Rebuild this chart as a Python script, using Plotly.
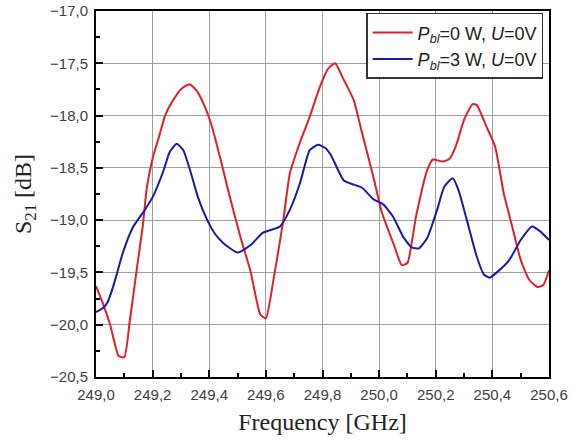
import plotly.graph_objects as go

# Frequency [GHz] and S21 [dB]
freq_red = [249.0, 249.025, 249.05, 249.08, 249.10, 249.12, 249.145, 249.165, 249.18, 249.20, 249.226,
            249.244, 249.273, 249.303, 249.33, 249.355, 249.385, 249.41, 249.44, 249.47, 249.51,
            249.545, 249.58, 249.60, 249.625, 249.66, 249.685, 249.72, 249.755, 249.79, 249.82,
            249.845, 249.87, 249.91, 249.94, 249.98, 250.01, 250.05, 250.08, 250.10, 250.13,
            250.17, 250.19, 250.225, 250.25, 250.27, 250.30, 250.33, 250.345, 250.38, 250.41,
            250.44, 250.47, 250.50, 250.53, 250.56, 250.58, 250.60]
s21_red = [-19.63, -19.80, -20.00, -20.30, -20.31, -19.95, -19.45, -19.06, -18.68, -18.41, -18.17,
           -18.00, -17.85, -17.74, -17.70, -17.76, -17.92, -18.11, -18.42, -18.75, -19.16,
           -19.48, -19.90, -19.94, -19.60, -19.03, -18.55, -18.26, -18.01, -17.73, -17.55,
           -17.50, -17.63, -17.85, -18.17, -18.59, -18.93, -19.22, -19.43, -19.41, -18.97,
           -18.52, -18.42, -18.44, -18.41, -18.30, -18.04, -17.89, -17.90, -18.11, -18.30,
           -18.74, -19.06, -19.38, -19.57, -19.64, -19.62, -19.48]

freq_blue = [249.0, 249.025, 249.04, 249.06, 249.075, 249.095, 249.13, 249.173, 249.20, 249.238,
             249.26, 249.285, 249.308, 249.332, 249.36, 249.393, 249.42, 249.45, 249.50, 249.545,
             249.59, 249.65, 249.685, 249.72, 249.755, 249.785, 249.81, 249.83, 249.875, 249.91,
             249.94, 249.98, 250.015, 250.05, 250.085, 250.115, 250.14, 250.17, 250.205, 250.23,
             250.26, 250.28, 250.31, 250.345, 250.37, 250.39, 250.42, 250.46, 250.50, 250.54,
             250.57, 250.60]
s21_blue = [-19.88, -19.84, -19.79, -19.64, -19.50, -19.31, -19.07, -18.90, -18.78, -18.53,
            -18.35, -18.27, -18.33, -18.52, -18.78, -19.00, -19.13, -19.22, -19.31, -19.24,
            -19.12, -19.06, -18.90, -18.65, -18.33, -18.28, -18.31, -18.38, -18.62, -18.66,
            -18.69, -18.80, -18.85, -18.97, -19.16, -19.26, -19.27, -19.17, -18.90, -18.68,
            -18.60, -18.71, -19.00, -19.35, -19.52, -19.55, -19.49, -19.38, -19.19, -19.06,
            -19.11, -19.19]

names = ["<i>P<sub>bl</sub></i>=0 W, <i>U</i>=0V", "<i>P<sub>bl</sub></i>=3 W, <i>U</i>=0V"]
x_ticks = [249.0, 249.2, 249.4, 249.6, 249.8, 250.0, 250.2, 250.4, 250.6]
y_ticks = [-17.0, -17.5, -18.0, -18.5, -19.0, -19.5, -20.0, -20.5]

fig = go.Figure()
fig.add_trace(go.Scatter(x=freq_red, y=s21_red, mode="lines", name=names[0],
                         line=dict(color="#e0202a", width=2, shape="spline", smoothing=0.5)))
fig.add_trace(go.Scatter(x=freq_blue, y=s21_blue, mode="lines", name=names[1],
                         line=dict(color="#1a1aa8", width=2, shape="spline", smoothing=0.5)))

axis_common = dict(showline=True, linecolor="black", linewidth=2, mirror=True,
                   showgrid=True, gridcolor="#a0a0a0", gridwidth=1, zeroline=False,
                   automargin=False, ticklabelstandoff=3,
                   ticks="inside", ticklen=7, tickwidth=2, tickcolor="black",
                   tickfont=dict(family="Liberation Sans, Arial", size=15, color="#404040"))

fig.update_xaxes(range=[249.0, 250.6], tickvals=x_ticks, tickformat=".1f",
                 minor=dict(dtick=0.1, ticks="inside", ticklen=4, tickwidth=2, tickcolor="black", showgrid=False),
                 title=dict(text="Frequency [GHz]", font=dict(family="Liberation Serif, Times New Roman", size=24, color="#222"),
                            standoff=11),
                 **axis_common)
fig.update_yaxes(range=[-20.5, -17.0], tickvals=y_ticks, tickformat=".1f",
                 minor=dict(dtick=0.25, ticks="inside", ticklen=4, tickwidth=2, tickcolor="black", showgrid=False),
                 title=dict(text="S<sub>21</sub> [dB]", font=dict(family="Liberation Serif, Times New Roman", size=24, color="#222"),
                            standoff=12),
                 **axis_common)

fig.update_layout(
    width=579, height=441,
    margin=dict(l=96, r=30, t=11, b=64),
    plot_bgcolor="white", paper_bgcolor="white",
    separators=", ",
    showlegend=True,
    legend=dict(x=0.987, y=0.995, xanchor="right", yanchor="top",
                bgcolor="white", bordercolor="#333", borderwidth=1.5,
                font=dict(family="Liberation Sans, Arial", size=18, color="#222"),
                tracegroupgap=0, itemwidth=40),
)

fig.write_html("out.html")
